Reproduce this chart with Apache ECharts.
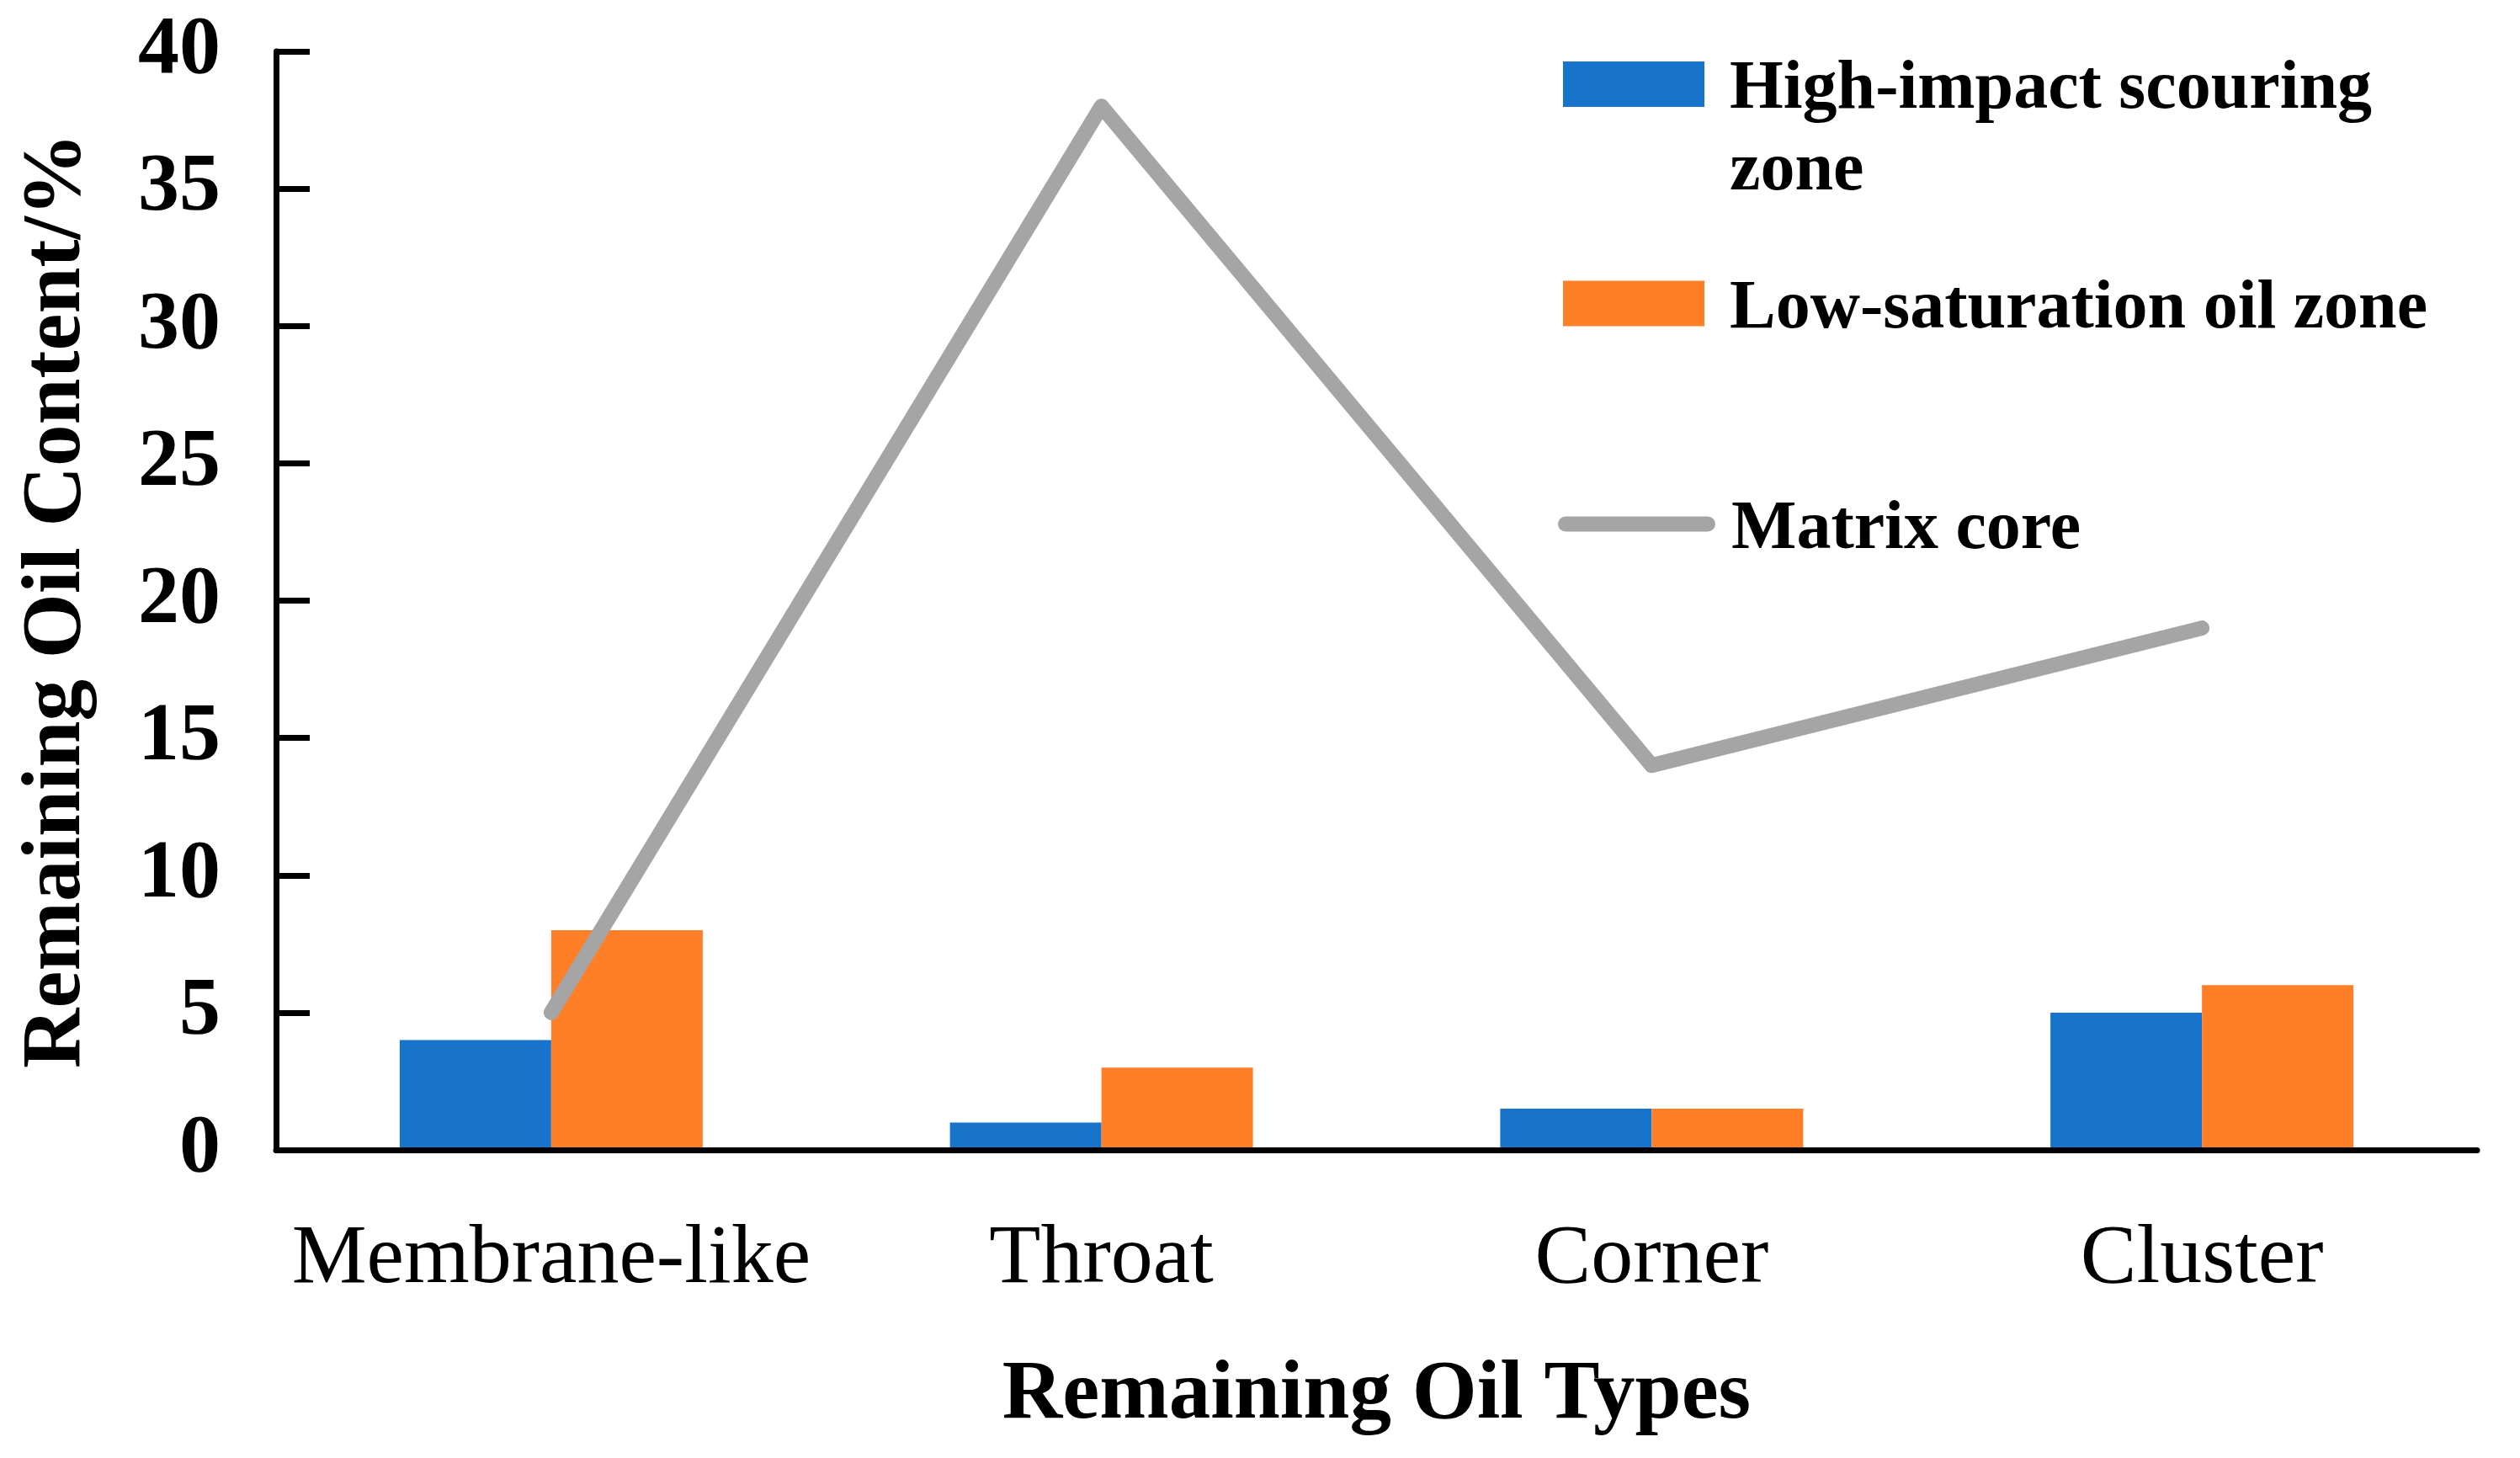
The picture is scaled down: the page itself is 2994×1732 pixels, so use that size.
<!DOCTYPE html>
<html>
<head>
<meta charset="utf-8">
<script src="https://cdn.jsdelivr.net/npm/echarts@6/dist/echarts.min.js"></script>
<style>
html,body{margin:0;padding:0;background:#fff;}
#chart{width:2994px;height:1732px;}
</style>
</head>
<body>
<div id="chart"></div>
<script>
const categories = ['Membrane-like', 'Throat', 'Corner', 'Cluster'];
const highImpact = [4, 1, 1.5, 5];
const lowSaturation = [8, 3, 1.5, 6];
const matrixCore = [5, 38, 14, 19];
const seriesNames = ['High-impact scouring zone', 'Low-saturation oil zone', 'Matrix core'];
const legendLines = [['High-impact scouring', 'zone'], ['Low-saturation oil zone'], ['Matrix core']];
const yTicks = [0, 5, 10, 15, 20, 25, 30, 35, 40];

const FONT = "'Liberation Serif', 'Times New Roman', serif";
const LINE_H = 97;
const SHIFT = 14;
const chart = echarts.init(document.getElementById('chart'));

function legendFor(idx, left, centerY, topAdjust, width, pad, extra) {
  const lines = legendLines[idx];
  // blank spacer line on top so the first text line sits level with the icon
  const spacerH = (lines.length - 1) * LINE_H + SHIFT;
  const blockH = spacerH + lines.length * LINE_H;
  const text = '{sp| }\n' + lines.map(function (l) { return '{t|' + l + '}'; }).join('\n');
  return Object.assign({
    data: [seriesNames[idx]],
    orient: 'vertical',
    left: left,
    top: Math.round(centerY - blockH / 2) + topAdjust,
    padding: 0,
    itemWidth: width,
    itemHeight: 54,
    formatter: function () { return text; },
    textStyle: {
      fontFamily: FONT, fontWeight: 'bold', fontSize: 82, color: '#000',
      padding: [0, 0, 0, pad],
      rich: {
        sp: { fontFamily: FONT, fontSize: 10, lineHeight: spacerH },
        t: { fontFamily: FONT, fontWeight: 'bold', fontSize: 82, color: '#000', lineHeight: LINE_H }
      }
    },
    selectedMode: false
  }, extra || {});
}

const option = {
  backgroundColor: '#fff',
  animation: false,
  grid: { left: 328, right: 51, top: 61, bottom: 366, containLabel: false },
  legend: [
    legendFor(0, 1857, 99, 51, 168, 25, { icon: 'rect' }),
    legendFor(1, 1857, 362, 0, 168, 25, { icon: 'rect' }),
    legendFor(2, 1851, 624, 0, 169, 23, {
      lineStyle: { width: 18, cap: 'round', color: '#A5A5A5' },
      itemStyle: { opacity: 0 }
    })
  ],
  xAxis: {
    type: 'category',
    data: categories,
    z: 5,
    axisLine: { show: true, lineStyle: { color: '#000', width: 7 } },
    axisTick: { show: false },
    axisLabel: { interval: 0, fontFamily: FONT, fontSize: 100, color: '#000', margin: 81 },
    name: 'Remaining Oil Types',
    nameLocation: 'middle',
    nameGap: 243,
    nameTextStyle: { fontFamily: FONT, fontSize: 99, fontWeight: 'bold', color: '#000' },
    splitLine: { show: false }
  },
  yAxis: {
    type: 'value',
    min: yTicks[0],
    max: yTicks[yTicks.length - 1],
    interval: 5,
    z: 5,
    axisLine: { show: true, lineStyle: { color: '#000', width: 7 } },
    axisTick: { show: true, inside: true, length: 40, lineStyle: { color: '#000', width: 7 } },
    axisLabel: { fontFamily: FONT, fontSize: 98, fontWeight: 'bold', color: '#000', margin: 66 },
    splitLine: { show: false },
    name: 'Remaining Oil Content/%',
    nameLocation: 'middle',
    nameGap: 210,
    nameTextStyle: { fontFamily: FONT, fontSize: 99, fontWeight: 'bold', color: '#000' }
  },
  series: [
    {
      name: seriesNames[0], type: 'bar', data: highImpact,
      barWidth: 180, barGap: '0%',
      itemStyle: { color: '#1874CA' }
    },
    {
      name: seriesNames[1], type: 'bar', data: lowSaturation,
      barWidth: 180, barGap: '0%',
      itemStyle: { color: '#FE7F28' }
    },
    {
      name: seriesNames[2], type: 'line', data: matrixCore,
      symbol: 'none', z: 3,
      lineStyle: { color: '#A5A5A5', width: 18, cap: 'round', join: 'round' },
      itemStyle: { color: '#A5A5A5' }
    }
  ]
};
chart.setOption(option);
</script>
</body>
</html>
